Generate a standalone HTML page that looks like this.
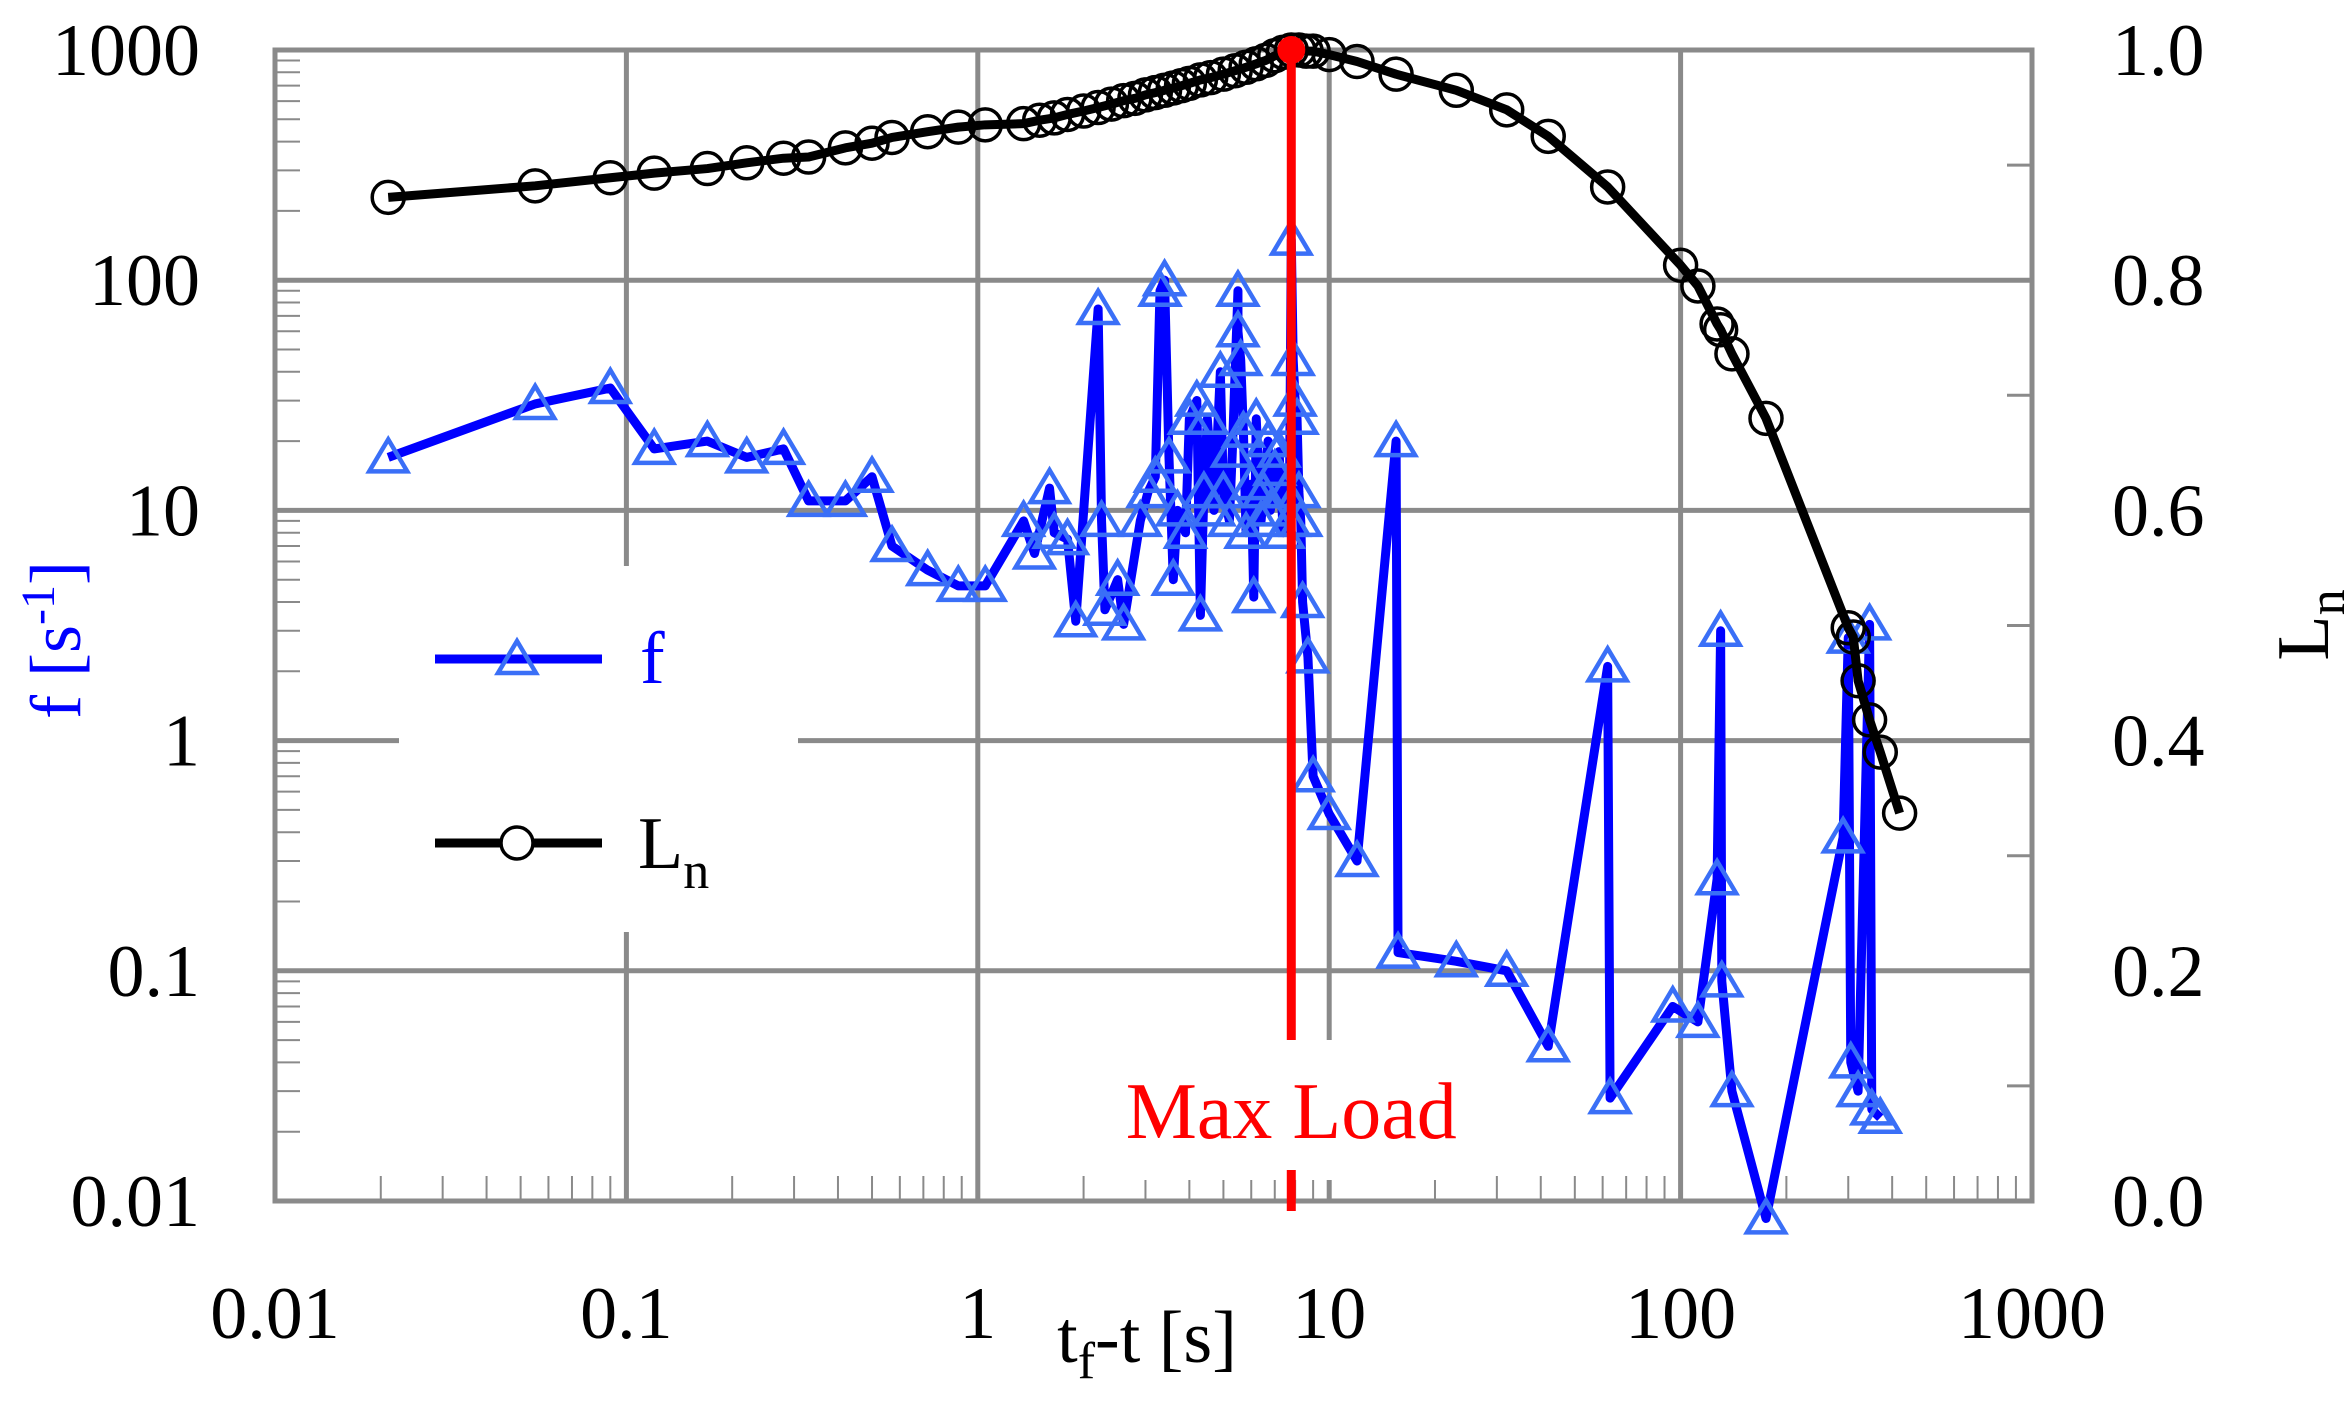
<!DOCTYPE html>
<html><head><meta charset="utf-8"><style>
html,body{margin:0;padding:0;background:#fff;}
svg{display:block;font-family:"Liberation Serif",serif;}
</style></head><body>
<svg id="chart" width="2348" height="1405" viewBox="0 0 2348 1405" xmlns="http://www.w3.org/2000/svg" style="position:absolute;left:0;top:0">
<g id="grid"></g>
<g id="ticks"></g>
<rect x="399" y="566" width="399" height="366" fill="#fff"/>
<rect x="1115" y="1040" width="360" height="140" fill="#fff"/>
<g id="series"></g>
<g id="labels"></g>
</svg>
<script>
const xTicks=[0.01,0.1,1,10,100,1000];
const xTickLabels=["0.01","0.1","1","10","100","1000"];
const yTicks=[0.01,0.1,1,10,100,1000];
const yTickLabels=["0.01","0.1","1","10","100","1000"];
const y2Ticks=[0,0.2,0.4,0.6,0.8,1.0];
const y2TickLabels=["0.0","0.2","0.4","0.6","0.8","1.0"];
const fTimes=[0.021,0.055,0.09,0.12,0.17,0.22,0.28,0.33,0.42,0.5,0.57,0.72,0.88,1.05,1.35,1.45,1.6,1.65,1.8,1.9,2.2,2.25,2.3,2.5,2.6,2.9,3.05,3.2,3.3,3.4,3.5,3.6,3.7,3.9,4.0,4.2,4.3,4.4,4.5,4.7,4.9,5.0,5.2,5.3,5.5,5.5,5.6,5.7,5.8,6.0,6.1,6.2,6.4,6.5,6.7,6.8,7.0,7.2,7.4,7.5,7.7,7.8,7.9,8.0,8.1,8.2,8.3,8.4,8.7,9.0,10,12,15.5,15.7,23,32,42,62,63,95,112,127,130,131,140,175,290,300,305,320,345,350,370];
const fValues=[17,29,34,18.5,20,17,18.5,11,11,14,7,5.5,4.7,4.7,9,6.5,12.5,8,7.5,3.3,75,9,3.7,5,3.2,9,12,14,90,100,17,5,10,8,25,30,3.5,12,25,10,40,12,9,18,90,60,45,22,8,13,4.2,25,9,12,20,10,15,18,8,12,9,150,45,30,25,12,9,4,2.3,0.7,0.48,0.3,20,0.12,0.11,0.1,0.047,2.1,0.028,0.07,0.06,0.25,3,0.09,0.03,0.0084,0.38,2.8,0.04,0.03,3.2,0.025,0.023];
const lTimes=[0.021,0.055,0.09,0.12,0.17,0.22,0.28,0.33,0.42,0.5,0.57,0.72,0.88,1.05,1.35,1.5,1.65,1.8,2.0,2.2,2.4,2.6,2.8,3.0,3.2,3.4,3.6,3.8,4.0,4.3,4.6,5.0,5.4,5.8,6.2,6.6,7.0,7.4,7.8,8.2,8.6,9,10,12,15.5,23,32,42,62,100,112,127,130,140,175,300,310,320,345,370,420];
const lValues=[0.872,0.882,0.889,0.893,0.897,0.902,0.906,0.907,0.915,0.919,0.924,0.929,0.933,0.935,0.936,0.939,0.941,0.944,0.947,0.950,0.953,0.956,0.958,0.961,0.963,0.965,0.967,0.969,0.971,0.974,0.976,0.979,0.982,0.985,0.988,0.991,0.995,0.998,1.0,1.0,0.999,0.999,0.996,0.99,0.979,0.965,0.948,0.925,0.881,0.813,0.795,0.762,0.757,0.736,0.68,0.498,0.49,0.452,0.418,0.39,0.337];
const maxLoadT=7.8;

const L=275,R=2032,T=50,B=1201;
const NS="http://www.w3.org/2000/svg";
function X(v){return L+(Math.log10(v)+2)/5*(R-L);}
function Y(v){return B-(Math.log10(v)+2)/5*(B-T);}
function Y2(v){return B-v*(B-T);}
function mk(tag,attrs,parent){const e=document.createElementNS(NS,tag);for(const k in attrs)e.setAttribute(k,attrs[k]);parent.appendChild(e);return e;}
const grid=document.getElementById('grid'),ticks=document.getElementById('ticks'),series=document.getElementById('series'),labels=document.getElementById('labels');
const G="#8a8a8a";
const FS=74;
xTicks.forEach((v,i)=>{
  const l=mk('line',{x1:X(v),x2:X(v),y1:T,y2:B,stroke:G,'stroke-width':5},grid);
  
  
  const t=mk('text',{x:X(v),y:1338,'font-size':FS,'text-anchor':'middle',fill:'#000'},labels);
  t.textContent=xTickLabels[i];
  
  
});
yTicks.forEach((v,i)=>{
  const l=mk('line',{x1:L,x2:R,y1:Y(v),y2:Y(v),stroke:G,'stroke-width':5},grid);
  
  
  const t=mk('text',{x:200,y:Y(v)+25,'font-size':FS,'text-anchor':'end',fill:'#000'},labels);
  t.textContent=yTickLabels[i];
  
  
});
y2Ticks.forEach((v,i)=>{
  const t=mk('text',{x:2112,y:Y2(v)+25,'font-size':FS,'text-anchor':'start',fill:'#000'},labels);
  t.textContent=y2TickLabels[i];
  
  
});
for(let d=-2;d<3;d++){for(let m=2;m<10;m++){
  const xv=m*Math.pow(10,d);
  mk('line',{x1:X(xv),x2:X(xv),y1:B,y2:B-25,stroke:G,'stroke-width':2},ticks);
  const yv=m*Math.pow(10,d);
  mk('line',{x1:L,x2:L+25,y1:Y(yv),y2:Y(yv),stroke:G,'stroke-width':2},ticks);
}}
for(let k=1;k<10;k+=2){mk('line',{x1:R,x2:R-25,y1:Y2(k/10),y2:Y2(k/10),stroke:G,'stroke-width':3},ticks);}
mk('rect',{x:L,y:T,width:R-L,height:B-T,fill:'none',stroke:G,'stroke-width':5},ticks);

const fp=fTimes.map((t,i)=>X(t)+','+Y(fValues[i])).join(' ');
const fl=mk('polyline',{points:fp,fill:'none',stroke:'#0000ff','stroke-width':9,'stroke-linejoin':'round'},series);


function tri(cx,cy,p){return mk('polygon',{points:`${cx},${cy-18} ${cx-19},${cy+14} ${cx+19},${cy+14}`,fill:'none',stroke:'#3a6ff7','stroke-width':4.5},p);}
fTimes.forEach((t,i)=>{
  const m=tri(X(t),Y(fValues[i]),series);
  
  
});
const lp=lTimes.map((t,i)=>X(t)+','+Y2(lValues[i])).join(' ');
const ll=mk('polyline',{points:lp,fill:'none',stroke:'#000','stroke-width':9,'stroke-linejoin':'round'},series);


lTimes.forEach((t,i)=>{
  const c=mk('circle',{cx:X(t),cy:Y2(lValues[i]),r:16,fill:'none',stroke:'#000','stroke-width':3.5},series);
  
  
});
const mx=X(maxLoadT);
const r1=mk('line',{x1:mx,x2:mx,y1:T,y2:1040,stroke:'#ff0000','stroke-width':9},series);


mk('line',{x1:mx,x2:mx,y1:1170,y2:B+10,stroke:'#ff0000','stroke-width':9},series);
const dot=mk('circle',{cx:mx,cy:T,r:14,fill:'#ff0000'},series);


const mt=mk('text',{x:mx,y:1138,'font-size':80,'text-anchor':'middle',fill:'#ff0000'},labels);
mt.textContent='Max Load';



const lg=mk('g',{},labels);


mk('line',{x1:435,x2:602,y1:659,y2:659,stroke:'#0000ff','stroke-width':9},lg);
tri(517,659,lg);
const lt1=mk('text',{x:640,y:683,'font-size':74,fill:'#0000ff'},lg);lt1.textContent='f';


mk('line',{x1:435,x2:602,y1:843,y2:843,stroke:'#000','stroke-width':9},lg);
mk('circle',{cx:517,cy:843,r:16,fill:'#fff',stroke:'#000','stroke-width':3.5},lg);
const lt2=mk('text',{x:638,y:868,'font-size':74,fill:'#000'},lg);
lt2.innerHTML='L<tspan font-size="52" dy="20">n</tspan>';


</script>
<svg style="position:absolute;left:0;top:0" width="2348" height="1405">
<text x="1147" y="1362" font-size="74" text-anchor="middle" font-family="Liberation Serif, serif">t<tspan font-size="52" dy="16">f</tspan><tspan dy="-16">-t [s]</tspan></text>
<text transform="translate(80,640) rotate(-90)" font-size="72" text-anchor="middle" fill="#0000ff" font-family="Liberation Serif, serif">f [s<tspan font-size="48" dy="-26">-1</tspan><tspan dy="26">]</tspan></text>
<text transform="translate(2328,625) rotate(-90)" font-size="74" text-anchor="middle" font-family="Liberation Serif, serif">L<tspan font-size="52" dy="16">n</tspan></text>
</svg>
</body></html>
